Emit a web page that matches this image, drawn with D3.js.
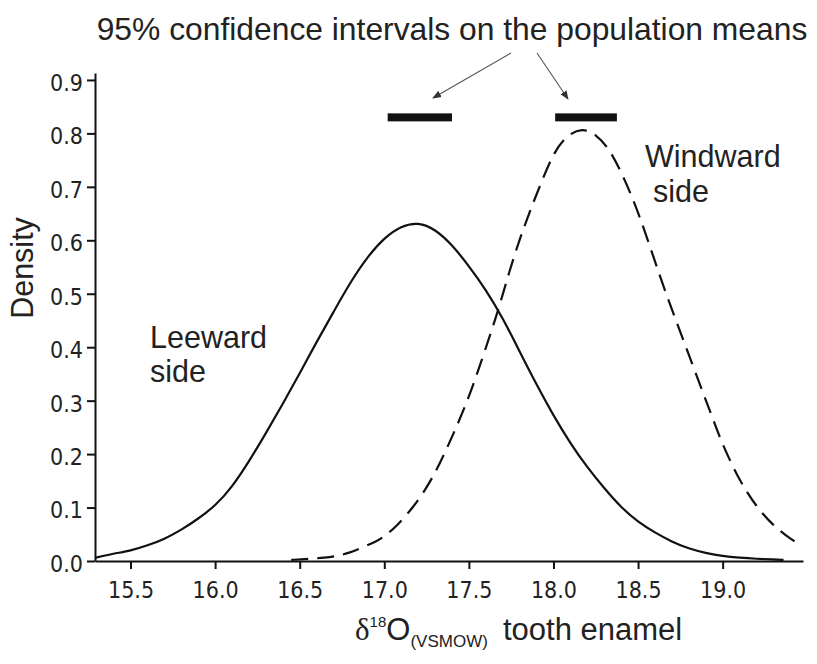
<!DOCTYPE html>
<html>
<head>
<meta charset="utf-8">
<script src="https://cdn.jsdelivr.net/npm/d3@7"></script>
<style>
  html, body { margin: 0; padding: 0; background: #fff; }
  svg { display: block; }
  .tick text { font-family: "DejaVu Sans Condensed", "DejaVu Sans", sans-serif; font-stretch: condensed; fill: #222; }
  .lbl { font-family: "Liberation Sans", Arial, sans-serif; fill: #222; }
</style>
</head>
<body>
<svg id="chart" width="817" height="664"></svg>
<script>
// ---- data ----
const leewardX = [15.29,15.40,15.50,15.60,15.70,15.80,15.90,16.00,16.10,16.20,16.30,16.40,16.50,16.60,16.70,16.80,16.90,17.00,17.10,17.20,17.30,17.40,17.50,17.60,17.70,17.80,17.90,18.00,18.10,18.20,18.30,18.40,18.50,18.60,18.70,18.80,18.90,19.00,19.10,19.20,19.30,19.36];
const leewardY = [0.006,0.014,0.019,0.029,0.041,0.058,0.079,0.103,0.138,0.186,0.239,0.294,0.351,0.410,0.466,0.522,0.569,0.605,0.627,0.634,0.621,0.592,0.552,0.508,0.455,0.392,0.330,0.272,0.220,0.175,0.136,0.100,0.073,0.053,0.036,0.023,0.015,0.009,0.006,0.004,0.003,0.002];
const windwardX = [16.45,16.55,16.65,16.72,16.80,16.86,16.95,17.00,17.07,17.17,17.25,17.30,17.35,17.41,17.47,17.53,17.59,17.675,17.74,17.80,17.86,17.92,18.00,18.08,18.17,18.25,18.335,18.43,18.51,18.59,18.67,18.77,18.87,18.95,19.00,19.10,19.20,19.30,19.40,19.47];
const windwardY = [0.002,0.004,0.006,0.009,0.016,0.024,0.036,0.046,0.064,0.100,0.137,0.165,0.197,0.239,0.283,0.333,0.389,0.470,0.543,0.602,0.654,0.702,0.764,0.797,0.810,0.799,0.770,0.708,0.645,0.570,0.495,0.412,0.326,0.260,0.217,0.150,0.101,0.066,0.041,0.029];
const ciLow  = [17.02, 18.01];
const ciHigh = [17.40, 18.375];
const ciLevel = [0.83, 0.83];
const xTicks = [15.5,16.0,16.5,17.0,17.5,18.0,18.5,19.0];
const yTicks = [0.0,0.1,0.2,0.3,0.4,0.5,0.6,0.7,0.8,0.9];
const xDomain = [15.29, 19.475];
const yDomain = [0, 0.913];

// ---- drawing ----
const svg = d3.select("#chart");
const x = d3.scaleLinear().domain(xDomain).range([95, 803]);
const y = d3.scaleLinear().domain(yDomain).range([561, 73]);
const ink = "#111";

const line = d3.line().x(d => x(d[0])).y(d => y(d[1])).curve(d3.curveBasis);

svg.append("path")
  .datum(leewardX.map((v, i) => [v, leewardY[i]]))
  .attr("d", line).attr("fill", "none").attr("stroke", ink).attr("stroke-width", 2.2);

svg.append("path")
  .datum(windwardX.map((v, i) => [v, windwardY[i]]))
  .attr("d", line).attr("fill", "none").attr("stroke", ink).attr("stroke-width", 2.2)
  .attr("stroke-dasharray", "17,9");

// CI bars
svg.selectAll("rect.ci").data(ciLow).enter().append("rect")
  .attr("class", "ci")
  .attr("x", (d) => x(d))
  .attr("width", (d, i) => x(ciHigh[i]) - x(d))
  .attr("y", (d, i) => y(ciLevel[i]) - 4)
  .attr("height", 8)
  .attr("fill", "#111");

// axes
const xAxis = d3.axisBottom(x).tickValues(xTicks).tickFormat(d3.format(".1f"))
  .tickSize(8).tickSizeOuter(0).tickPadding(13);
const gx = svg.append("g").attr("transform", `translate(0,${y(0)})`).call(xAxis);
gx.selectAll("text").style("font-size", "23px");

const yAxis = d3.axisLeft(y).tickValues(yTicks).tickFormat(d3.format(".1f"))
  .tickSize(8).tickSizeOuter(0).tickPadding(4);
const gy = svg.append("g").attr("transform", `translate(${x(xDomain[0])},0)`).call(yAxis);
gy.selectAll("text").style("font-size", "23px").attr("dy", "0.45em");

[gx, gy].forEach(g => {
  g.select(".domain").attr("stroke", ink).attr("stroke-width", 2);
  g.selectAll(".tick line").attr("stroke", ink).attr("stroke-width", 2);
});

// arrows
const defs = svg.append("defs");
defs.append("marker").attr("id", "ah").attr("viewBox", "0 0 10 10")
  .attr("refX", 9).attr("refY", 5).attr("markerWidth", 9).attr("markerHeight", 9)
  .attr("markerUnits", "userSpaceOnUse").attr("orient", "auto")
  .append("path").attr("d", "M0,1 L10,5 L0,9 Z").attr("fill", "#333");

const arrowStarts = [[511, 53], [537, 53]];
const arrowEnds = [[433, 98], [568, 99]];
arrowStarts.forEach((s, i) => {
  svg.append("line").attr("x1", s[0]).attr("y1", s[1])
    .attr("x2", arrowEnds[i][0]).attr("y2", arrowEnds[i][1])
    .attr("stroke", "#555").attr("stroke-width", 1.1).attr("marker-end", "url(#ah)");
});

// title
svg.append("text").attr("class", "lbl").attr("x", 452).attr("y", 40)
  .attr("text-anchor", "middle").style("font-size", "31.8px")
  .text("95% confidence intervals on the population means");

// series labels
svg.append("text").attr("class", "lbl").attr("x", 150).attr("y", 348).style("font-size", "30.5px").text("Leeward");
svg.append("text").attr("class", "lbl").attr("x", 150).attr("y", 382).style("font-size", "30.5px").text("side");
svg.append("text").attr("class", "lbl").attr("x", 645).attr("y", 167).style("font-size", "30.5px").text("Windward");
svg.append("text").attr("class", "lbl").attr("x", 653).attr("y", 202).style("font-size", "30.5px").text("side");

// y label
svg.append("text").attr("class", "lbl")
  .attr("transform", "translate(33,268) rotate(-90)")
  .attr("text-anchor", "middle").style("font-size", "30.5px").text("Density");

// x label
const xl = svg.append("text").attr("class", "lbl").attr("x", 355).attr("y", 640).style("font-size", "31px");
xl.append("tspan").style("font-family", "'Liberation Serif', 'DejaVu Serif', serif").style("font-size", "31px").text("δ");
xl.append("tspan").attr("dy", -13).style("font-size", "15px").text("18");
xl.append("tspan").attr("dy", 13).text("O");
xl.append("tspan").attr("dy", 7).style("font-size", "17px").text("(VSMOW)");
xl.append("tspan").attr("dy", -7).attr("x", 503).text("tooth enamel");
</script>
</body>
</html>
